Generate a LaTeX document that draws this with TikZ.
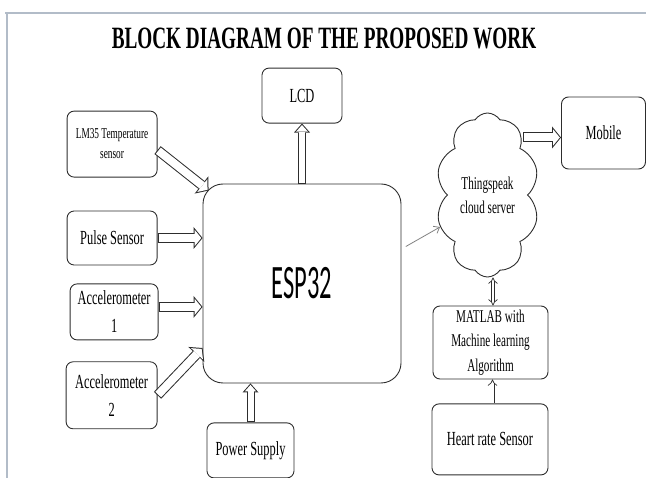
\documentclass[tikz,border=0pt]{standalone}
\usepackage{fontspec}
\setmainfont{Liberation Serif}[FakeStretch=0.62]
\newfontfamily\espfont{Carlito}[FakeStretch=0.51]
\usetikzlibrary{shapes.symbols, arrows.meta, positioning, calc}

\definecolor{edge}{RGB}{45,45,45}
\definecolor{rim}{RGB}{178,188,200}

\tikzstyle{block} = [rectangle, draw=edge, line width=0.9pt, rounded corners=7pt, align=center, inner sep=2pt, font=\fontsize{20}{28}\selectfont]
\tikzstyle{core} = [rectangle, draw=edge, line width=0.9pt, rounded corners=20pt, font=\espfont\fontsize{48}{56}\selectfont]
\tikzstyle{server} = [cloud, draw=edge, line width=0.9pt, cloud puffs=10, cloud puff arc=115, aspect=0.63, align=center, inner sep=0pt, font=\fontsize{18}{24}\selectfont]
\tikzstyle{fat} = [white, line width=8pt, shorten <=1pt, shorten >=1.3pt, -{Triangle[length=6.7pt, width=16.4pt, line width=0pt]},
  preaction={draw=edge, line width=10pt, shorten <=0pt, shorten >=0pt, -{Triangle[length=9pt, width=22pt, line width=0pt]}}]
\tikzstyle{slim} = [white, line width=6pt, shorten <=1pt, shorten >=1.5pt, -{Triangle[length=6.5pt, width=11.6pt, line width=0pt]},
  preaction={draw=edge, line width=8pt, shorten <=0pt, shorten >=0pt, -{Triangle[length=9pt, width=16pt, line width=0pt]}}]
\tikzstyle{link} = [draw=edge, line width=0.7pt, double, double distance=2.6pt, -Implies]
\tikzstyle{feed} = [draw=gray, line width=0.8pt, -{Straight Barb[length=5pt, width=8pt]}]

\begin{document}
\begin{tikzpicture}[x=1pt, y=-1pt]
    \useasboundingbox (0,0) rectangle (646,478);
    \draw[rim, line width=1.2pt] (5,13) -- (646,13);
    \draw[rim, line width=1.2pt] (7,13) -- (7,478);

    \node (title) at (324,48.5) [anchor=base, font=\bfseries\fontsize{31}{36}\selectfont] {BLOCK DIAGRAM OF THE PROPOSED WORK};

    % controller and what hangs on it
    \node (esp) [core, minimum width=198pt, minimum height=199pt] at (302,283.5) {ESP32};
    \node (lcd) [block, above=60pt of esp, minimum width=80pt, minimum height=55pt] {LCD};
    \node (power) [block, below=39pt of esp, xshift=-51.5pt, minimum width=87pt, minimum height=55pt] {Power Supply};

    \node (pulse) [block, left=45pt of esp, yshift=45.5pt, minimum width=90pt, minimum height=54pt] {Pulse Sensor};
    \node (lm35) [block, above=33pt of pulse, minimum width=90pt, minimum height=66pt, font=\fontsize{15}{20}\selectfont] {LM35 Temperature\\sensor};
    \node (acc1) [block, below=18pt of pulse, xshift=2pt, minimum width=88pt, minimum height=56pt] {Accelerometer\\1};
    \node (acc2) [block, below=21pt of acc1, xshift=-2.5pt, minimum width=91pt, minimum height=67pt] {Accelerometer\\2};

    % cloud side
    \node (cloud) [server, minimum width=103pt, minimum height=164pt] at (487.5,195) {Thingspeak\\cloud server};
    \node (mobile) [block, minimum width=84pt, minimum height=72pt] at (603.5,133) {Mobile};
    \node (matlab) [block, minimum width=115pt, minimum height=73pt, font=\fontsize{18}{24.5}\selectfont] at (490.5,342.5) {MATLAB with\\Machine learning\\Algorithm};
    \node (heart) [block, below=24pt of matlab, xshift=-0.5pt, minimum width=116pt, minimum height=71pt] {Heart rate Sensor};

    \draw[fat] ([yshift=-6pt]lm35.east) -- ($(esp.north west)+(6,7)$);
    \draw[fat] (pulse.east) -- (pulse.east -| esp.west);
    \draw[fat] ($(acc1.east)+(0,-5)$) -- ($(acc1.east -| esp.west)+(0,-5)$);
    \draw[fat] (acc2.east) -- ([yshift=-64.5pt]esp.west);
    \draw[slim] (power.north) -- (power.north |- esp.south);
    \draw[slim] (esp.north) -- (lcd.south);

    \draw[feed, shorten <=5pt] ([yshift=34.5pt]esp.east) -- (cloud.214);
    \draw[fat] ($(mobile.west -| cloud.east)+(-5,4.5)$) -- ($(mobile.west)+(0,4.5)$);
    \draw[link, {Implies}-{Implies}] ([xshift=2.5pt]matlab.north) -- ([xshift=2.5pt]matlab.north |- cloud.south);
    \draw[link] ([xshift=2.5pt]heart.north) -- ([xshift=2.5pt]heart.north |- matlab.south);
\end{tikzpicture}
\end{document}
